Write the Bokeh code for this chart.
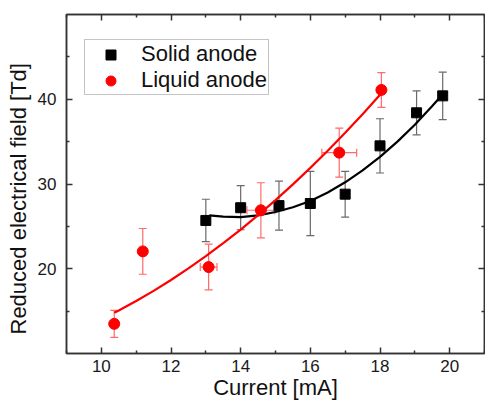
from bokeh.plotting import figure
from bokeh.models import (ColumnDataSource, Whisker, LinearAxis, FixedTicker,
                          Range1d, Legend, LegendItem, TeeHead, Title)
from bokeh.embed import file_html
from bokeh.resources import INLINE

# ---- data ----
solid_current = [13.0, 14.0, 15.1, 16.0, 17.0, 18.0, 19.05, 19.8]
solid_field = [25.7, 27.2, 27.45, 27.7, 28.8, 34.5, 38.4, 40.4]
solid_err = [2.5, 2.6, 2.9, 3.8, 2.7, 3.2, 2.6, 2.8]

liquid_current = [10.37, 11.19, 13.08, 14.58, 16.83, 18.04]
liquid_field = [13.5, 22.05, 20.2, 26.9, 33.7, 41.1]
liquid_err = [1.6, 2.7, 2.7, 3.25, 2.9, 2.05]
liquid_xerr = [0.0, 0.0, 0.24, 0.4, 0.5, 0.0]

solid_fit_x = [13.1, 13.5, 14.0, 14.5, 15.0, 15.5, 16.0, 16.5, 17.0, 17.5,
               18.0, 18.5, 19.0, 19.5, 19.8]
solid_fit_y = [26.3, 26.15, 26.1, 26.3, 26.7, 27.25, 28.0, 29.0, 30.2, 31.6,
               33.2, 35.0, 37.0, 39.2, 40.6]

liquid_fit_x = [10.37, 10.5, 11.0, 11.5, 12.0, 12.5, 13.0, 13.5, 14.0, 14.5,
                15.0, 15.5, 16.0, 16.5, 17.0, 17.5, 18.04]
liquid_fit_y = [14.8, 15.08, 16.19, 17.39, 18.67, 20.04, 21.48, 23.01, 24.62,
                26.32, 28.10, 29.96, 31.90, 33.93, 36.04, 38.23, 40.7]

x_major = [10, 12, 14, 16, 18, 20]
x_minor = [9, 11, 13, 15, 17, 19, 21]
y_major = [20, 30, 40]
y_minor = [15, 25, 35, 45]

X_LABEL = "Current [mA]"
Y_LABEL = "Reduced electrical field [Td]"
FONT = "Liberation Sans"
AXC = "#333333"

p = figure(width=485, height=402, output_backend="svg", toolbar_location=None,
           x_range=Range1d(9, 21), y_range=Range1d(10, 50),
           min_border_top=14, min_border_right=1, min_border_left=66,
           min_border_bottom=10)
p.background_fill_color = "white"
p.border_fill_color = "white"
p.outline_line_color = AXC
p.outline_line_width = 1.5
p.xgrid.visible = False
p.ygrid.visible = False

xt = FixedTicker(ticks=x_major, minor_ticks=x_minor)
yt = FixedTicker(ticks=y_major, minor_ticks=y_minor)


def style(ax, ticker, show_labels, majors=None):
    ax.ticker = ticker
    ax.axis_line_color = AXC
    ax.axis_line_width = 1.5
    ax.major_tick_line_color = AXC
    ax.minor_tick_line_color = AXC
    ax.major_tick_line_width = 1.5
    ax.minor_tick_line_width = 1.5
    ax.major_tick_in = 6
    ax.major_tick_out = 0
    ax.minor_tick_in = 3
    ax.minor_tick_out = 0
    if show_labels:
        ax.major_label_text_font = FONT
        ax.major_label_text_font_size = "17px"
        ax.major_label_text_color = "#1a1a1a"
        ax.axis_label_text_font = FONT
        ax.axis_label_text_font_size = "22px"
        ax.axis_label_text_font_style = "normal"
        ax.axis_label_text_color = "#111111"
    else:
        ax.major_label_overrides = {t: "" for t in majors}
        ax.major_label_text_font_size = "1px"
        ax.major_label_standoff = 0


style(p.xaxis[0], xt, True)
style(p.yaxis[0], yt, True)
p.xaxis[0].axis_label = X_LABEL
p.xaxis[0].major_label_standoff = 6
p.xaxis[0].axis_label_standoff = 0
p.yaxis[0].major_label_standoff = 10

# y-axis title placed in the left panel, shifted along the axis like the original
ytitle = Title(text=Y_LABEL, align="left", offset=19, standoff=7,
               text_font=FONT, text_font_size="22px", text_font_style="normal",
               text_color="#111111")
p.add_layout(ytitle, "left")

top_ax = LinearAxis()
style(top_ax, xt, False, x_major)
p.add_layout(top_ax, "above")
right_ax = LinearAxis()
style(right_ax, yt, False, y_major)
p.add_layout(right_ax, "right")

# ---- sources ----
solid_src = ColumnDataSource(dict(
    x=solid_current, y=solid_field,
    lo=[v - e for v, e in zip(solid_field, solid_err)],
    hi=[v + e for v, e in zip(solid_field, solid_err)]))
liquid_src = ColumnDataSource(dict(
    x=liquid_current, y=liquid_field,
    lo=[v - e for v, e in zip(liquid_field, liquid_err)],
    hi=[v + e for v, e in zip(liquid_field, liquid_err)]))
lx = [(x, y, e) for x, y, e in zip(liquid_current, liquid_field, liquid_xerr) if e > 0]
liquid_xsrc = ColumnDataSource(dict(
    y=[t[1] for t in lx],
    lo=[t[0] - t[2] for t in lx],
    hi=[t[0] + t[2] for t in lx]))

BLACK_ERR = "#6a6a6a"
RED_ERR = "#ff6a6a"


def whisker(src, base, dim, color):
    w = Whisker(source=src, base=base, lower="lo", upper="hi", dimension=dim,
                line_color=color, line_width=1.2,
                lower_head=TeeHead(size=8, line_color=color, line_width=1.2),
                upper_head=TeeHead(size=8, line_color=color, line_width=1.2))
    p.add_layout(w)


whisker(solid_src, "x", "height", BLACK_ERR)
whisker(liquid_src, "x", "height", RED_ERR)
whisker(liquid_xsrc, "y", "width", RED_ERR)

p.line(solid_fit_x, solid_fit_y, line_color="black", line_width=2.2)
sq = p.scatter("x", "y", source=solid_src, marker="square", size=10,
               fill_color="black", line_color="black")
p.line(liquid_fit_x, liquid_fit_y, line_color="red", line_width=2.2)
ci = p.scatter("x", "y", source=liquid_src, marker="circle", size=11,
               fill_color="red", line_color="red")

legend = Legend(items=[LegendItem(label="Solid anode", renderers=[sq]),
                       LegendItem(label="Liquid anode", renderers=[ci])],
                location=(18, 258))
legend.label_text_font = FONT
legend.label_text_font_size = "22px"
legend.label_text_color = "#111111"
legend.padding = 1
legend.spacing = 0
legend.glyph_width = 49
legend.glyph_height = 25
legend.label_height = 25
legend.label_standoff = 6
legend.margin = 0
legend.border_line_color = "#8a8a8a"
legend.border_line_width = 1
legend.background_fill_color = "white"
legend.background_fill_alpha = 1
p.add_layout(legend)

open("out.html", "w").write(file_html(p, INLINE))
